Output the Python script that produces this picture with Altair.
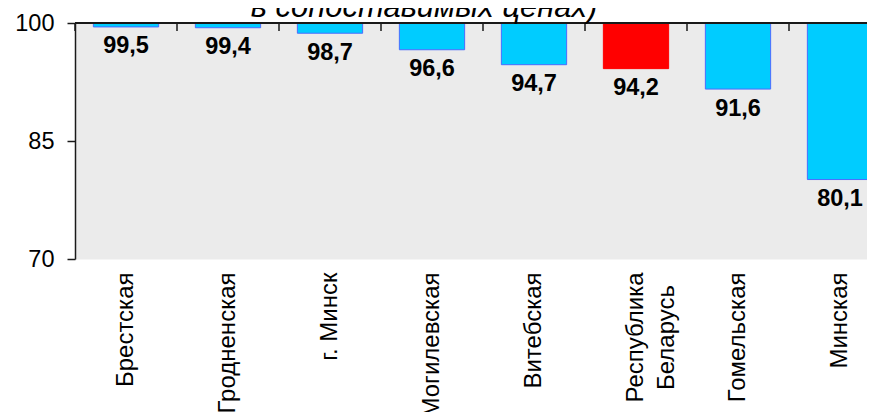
import altair as alt
import pandas as pd

regions = ["Брестская", "Гродненская", "г. Минск", "Могилевская", "Витебская",
           "Республика Беларусь", "Гомельская", "Минская"]
values = [99.5, 99.4, 98.7, 96.6, 94.7, 94.2, 91.6, 80.1]
highlight = "Республика Беларусь"
y_ticks = [70, 85, 100]
title_line = "в сопоставимых ценах)"

df = pd.DataFrame({"region": regions, "value": values})
df["label"] = [f"{v:.1f}".replace(".", ",") for v in values]

FONT = "Liberation Sans"
DARK = "#1a1a1a"
is_two_line = "datum.value == 'Республика Беларусь'"

x_scale = alt.Scale(range=[0, 816], paddingInner=0, paddingOuter=0)
x_enc = alt.X(
    "region:N", sort=regions, scale=x_scale,
    axis=alt.Axis(
        title=None, domain=False, ticks=False, labelAngle=270,
        labelAlign={"condition": {"test": is_two_line, "value": "center"}, "value": "right"},
        labelPadding={"condition": {"test": is_two_line, "value": 78}, "value": 13},
        labelBaseline="middle",
        labelFontSize=24, labelFont=FONT, labelColor="black",
        labelLineHeight=31, labelLimit=400, labelOverlap=False,
        labelExpr="datum.label == 'Республика Беларусь' ? ['Республика', 'Беларусь'] : datum.label",
    ),
)
y_enc = alt.Y(
    "value:Q",
    scale=alt.Scale(domain=[70, 100], nice=False, zero=False),
    axis=alt.Axis(
        values=y_ticks, title=None, grid=False, domainColor=DARK, domainWidth=1.5,
        tickColor=DARK, tickWidth=1.5, tickSize=8, labelFontSize=23.5, labelFont=FONT,
        labelColor="black", labelPadding=13, labelFlush=False,
    ),
)

base = alt.Chart(df)

bars = base.mark_bar(width=alt.RelativeBandSize(0.64), strokeWidth=1).encode(
    x=x_enc, y=y_enc, y2=alt.datum(100),
    color=alt.condition(alt.datum.region == highlight, alt.value("#FF0000"), alt.value("#00CCFF")),
    stroke=alt.condition(alt.datum.region == highlight, alt.value("#FF0000"), alt.value("#4A6CFF")),
)

labels = base.mark_text(fontSize=23.5, fontWeight="bold", font=FONT, dy=19.5,
                        baseline="middle", color="black").encode(
    x=x_enc, y=y_enc, text="label:N",
)

ticks = base.mark_rule(color=DARK, strokeWidth=1.5).encode(
    x=alt.X("region:N", sort=regions, bandPosition=0, scale=x_scale),
    y=alt.value(0), y2=alt.value(8),
)

top_line = base.mark_rule(color=DARK, strokeWidth=1.5).encode(
    x=alt.value(0), x2=alt.value(816), y=alt.value(0),
)

title = alt.Chart(pd.DataFrame({"t": [title_line]})).mark_text(
    fontSize=31, fontStyle="italic", font=FONT, align="center",
    baseline="alphabetic", color="black",
).encode(x=alt.value(349), y=alt.value(-6), text="t:N")

chart = alt.layer(bars, labels, ticks, top_line, title).properties(
    width=792, height=236,
    autosize=alt.AutoSizeParams(type="none"),
    padding={"left": 67, "top": 15, "right": 0, "bottom": 153},
).configure_view(fill="#EBEBEB", stroke="transparent")

chart.save("out.html", embed_options={"renderer": "svg", "actions": False})
